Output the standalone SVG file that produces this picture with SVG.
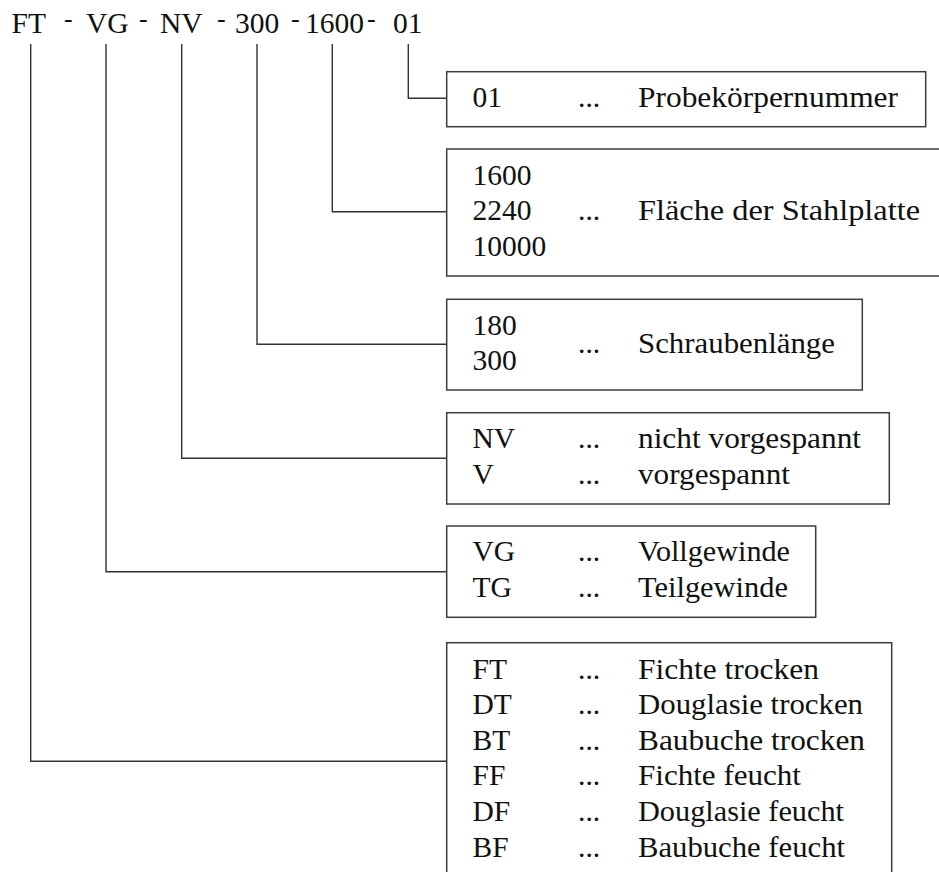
<svg xmlns="http://www.w3.org/2000/svg" width="939" height="872" viewBox="0 0 939 872">
  <style>
    text { font-family: "Liberation Serif", "Times New Roman", serif; font-size: 29.5px; fill: #111; }
    .dash { font-size: 26px; }
    .box { fill: #fff; stroke: #3c3c3c; stroke-width: 1.5; }
    .wire { fill: none; stroke: #333; stroke-width: 1.4; }
  </style>

  <!-- specimen code line -->
  <g id="code">
    <text y="33"><tspan x="11.5">FT</tspan><tspan class="dash" x="64" y="26.5">-</tspan><tspan x="86" y="33">VG</tspan><tspan class="dash" x="139" y="26.5">-</tspan><tspan x="160" y="33">NV</tspan><tspan class="dash" x="217" y="26.5">-</tspan><tspan x="235" y="33">300</tspan><tspan class="dash" x="291" y="26.5">-</tspan><tspan x="305" y="33">1600</tspan><tspan class="dash" x="367" y="26.5">-</tspan><tspan x="393" y="33">01</tspan></text>
  </g>

  <!-- connectors from each code segment to its legend box -->
  <g id="connectors">
    <path class="wire" d="M408.3 44 V98.3 H446.7"/>
    <path class="wire" d="M332.3 44 V211.7 H446.7"/>
    <path class="wire" d="M257 44 V344.3 H446.7"/>
    <path class="wire" d="M181.7 44 V458.3 H446.7"/>
    <path class="wire" d="M106 44 V571.7 H446.7"/>
    <path class="wire" d="M30.7 44 V761.2 H446.7"/>
  </g>

  <g id="box-number">
    <rect class="box" x="446.7" y="71.7" width="479" height="55"/>
    <text x="472.5" y="106.5">01</text>
    <text x="578" y="106.5">...</text>
    <text x="638" y="106.5" textLength="260" lengthAdjust="spacingAndGlyphs">Probekörpernummer</text>
  </g>

  <g id="box-plate">
    <rect class="box" x="446.7" y="149" width="500" height="127"/>
    <text x="472.5" y="184.5">1600</text>
    <text x="472.5" y="220">2240</text>
    <text x="472.5" y="255.5">10000</text>
    <text x="578" y="220">...</text>
    <text x="638" y="220" textLength="282" lengthAdjust="spacingAndGlyphs">Fläche der Stahlplatte</text>
  </g>

  <g id="box-length">
    <rect class="box" x="446.7" y="299.3" width="415.6" height="90.7"/>
    <text x="472.5" y="334.7">180</text>
    <text x="472.5" y="370.2">300</text>
    <text x="578" y="352.5">...</text>
    <text x="638" y="352.5" textLength="197" lengthAdjust="spacingAndGlyphs">Schraubenlänge</text>
  </g>

  <g id="box-preload">
    <rect class="box" x="446.7" y="412.7" width="442.6" height="91.3"/>
    <text x="472.5" y="448">NV</text>
    <text x="578" y="448">...</text>
    <text x="638" y="448" textLength="223" lengthAdjust="spacingAndGlyphs">nicht vorgespannt</text>
    <text x="472.5" y="483.6">V</text>
    <text x="578" y="483.6">...</text>
    <text x="638" y="483.6" textLength="152" lengthAdjust="spacingAndGlyphs">vorgespannt</text>
  </g>

  <g id="box-thread">
    <rect class="box" x="446.7" y="526" width="369" height="91.3"/>
    <text x="472.5" y="561.4">VG</text>
    <text x="578" y="561.4">...</text>
    <text x="638" y="561.4" textLength="152" lengthAdjust="spacingAndGlyphs">Vollgewinde</text>
    <text x="472.5" y="597">TG</text>
    <text x="578" y="597">...</text>
    <text x="638" y="597" textLength="150" lengthAdjust="spacingAndGlyphs">Teilgewinde</text>
  </g>

  <g id="box-wood">
    <rect class="box" x="446.7" y="642.7" width="445" height="240"/>
    <text x="472.5" y="678.5">FT</text>
    <text x="578" y="678.5">...</text>
    <text x="638" y="678.5" textLength="181" lengthAdjust="spacingAndGlyphs">Fichte trocken</text>
    <text x="472.5" y="714.1">DT</text>
    <text x="578" y="714.1">...</text>
    <text x="638" y="714.1" textLength="225" lengthAdjust="spacingAndGlyphs">Douglasie trocken</text>
    <text x="472.5" y="749.7">BT</text>
    <text x="578" y="749.7">...</text>
    <text x="638" y="749.7" textLength="227" lengthAdjust="spacingAndGlyphs">Baubuche trocken</text>
    <text x="472.5" y="785.3">FF</text>
    <text x="578" y="785.3">...</text>
    <text x="638" y="785.3" textLength="163" lengthAdjust="spacingAndGlyphs">Fichte feucht</text>
    <text x="472.5" y="820.9">DF</text>
    <text x="578" y="820.9">...</text>
    <text x="638" y="820.9" textLength="206" lengthAdjust="spacingAndGlyphs">Douglasie feucht</text>
    <text x="472.5" y="856.5">BF</text>
    <text x="578" y="856.5">...</text>
    <text x="638" y="856.5" textLength="207" lengthAdjust="spacingAndGlyphs">Baubuche feucht</text>
  </g>
</svg>
